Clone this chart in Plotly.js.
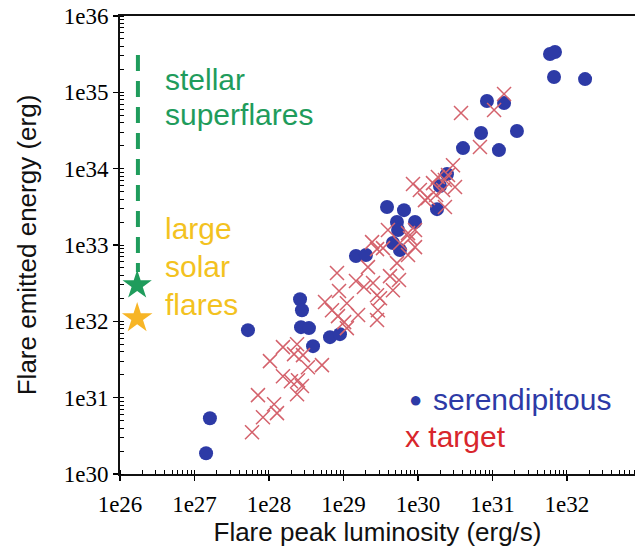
<!DOCTYPE html>
<html>
<head>
<meta charset="utf-8">
<script src="https://cdn.plot.ly/plotly-3.0.1.min.js"></script>
<style>html,body{margin:0;padding:0;background:#fff;}#chart{width:635px;height:554px;}</style>
</head>
<body>
<div id="chart"></div>
<script>
// Serendipitous flares: peak luminosity (erg/s) and emitted energy (erg)
const serendipitousL = [1.43e27, 1.61e27, 5.22e27, 2.61e28, 2.77e28, 2.69e28, 3.44e28, 3.90e28, 6.59e28, 8.97e28,
  1.47e29, 2.00e29, 3.84e29, 6.49e29, 5.22e29, 9.12e29, 5.40e29, 4.61e29, 5.73e29, 1.80e30,
  1.97e30, 2.45e30, 4.02e30, 1.22e31, 7.02e30, 2.13e31, 8.43e30, 1.43e31, 5.92e31, 6.90e31,
  6.70e31, 1.75e32];
const serendipitousE = [1.87e30, 5.38e30, 7.67e31, 1.95e32, 1.40e32, 8.39e31, 8.15e31, 4.73e31, 6.21e31, 6.79e31,
  7.16e32, 7.38e32, 3.14e33, 2.86e33, 2.00e33, 2.00e33, 1.57e33, 1.06e33, 8.57e32, 2.95e33,
  5.92e33, 8.49e33, 1.86e34, 1.75e34, 2.93e34, 3.11e34, 7.69e34, 7.24e34, 3.18e35, 3.37e35,
  1.59e35, 1.49e35];

// Target flares
const targetL = [5.92e27, 8.30e27, 7.11e27, 1.17e28, 1.28e28, 1.03e28, 1.54e28, 1.54e28, 1.97e28, 2.45e28,
  2.38e28, 2.77e28, 2.38e28, 2.17e28, 2.86e28, 3.33e28, 5.14e28, 5.65e28, 8.18e28, 8.71e28,
  7.01e28, 8.43e28, 1.02e29, 1.11e29, 1.47e29, 1.57e29, 1.88e29, 2.13e29, 2.82e29, 2.90e29,
  2.49e29, 2.82e29, 3.09e29, 4.61e29, 4.21e29, 5.56e29, 3.39e29, 2.82e29, 5.73e29, 7.82e29,
  7.35e29, 3.95e29, 5.22e29, 7.35e29, 9.12e29, 2.42e29, 9.12e29, 1.11e29, 8.57e29, 1.06e30,
  1.36e30, 1.59e30, 1.85e30, 2.30e30, 2.17e30, 2.53e30, 2.95e30, 3.14e30, 2.30e30, 1.24e30,
  1.75e30, 6.79e30, 3.78e30, 1.05e31, 1.43e31];
const targetE = [3.53e30, 5.55e30, 1.08e31, 8.22e30, 6.27e30, 3.01e31, 4.59e31, 1.91e31, 1.64e31, 1.69e31,
  1.11e31, 1.42e31, 5.02e31, 3.72e31, 3.61e31, 2.51e31, 2.67e31, 1.79e32, 4.29e32, 2.49e32,
  1.40e32, 1.17e32, 9.77e31, 8.15e31, 3.37e32, 1.21e32, 2.81e32, 5.13e32, 1.04e32, 1.40e32,
  3.17e32, 2.20e32, 2.01e32, 2.56e32, 3.91e32, 3.47e32, 9.10e32, 8.83e32, 1.06e33, 1.23e33,
  1.43e33, 1.57e33, 5.79e32, 7.38e32, 9.38e32, 1.09e33, 1.57e33, 1.73e32, 6.28e33, 5.25e33,
  4.12e33, 6.47e33, 7.76e33, 7.10e33, 5.25e33, 8.24e33, 1.11e34, 5.74e33, 3.14e33, 3.87e33,
  4.51e33, 1.92e34, 5.36e34, 5.86e34, 9.51e34];

// Reference ranges drawn at the left edge
const refL = [1.74e26, 1.74e26];
const superflareE = [3.08e35, 4.42e32];
const starL = [1.70e26];
const stellarStarE = [2.98e32];
const solarStarE = [1.10e32];

// Axis ticks
const xTickVals = [1e26, 1e27, 1e28, 1e29, 1e30, 1e31, 1e32];
const xTickText = ['1e26', '1e27', '1e28', '1e29', '1e30', '1e31', '1e32'];
const yTickVals = [1e30, 1e31, 1e32, 1e33, 1e34, 1e35, 1e36];
const yTickText = ['1e30', '1e31', '1e32', '1e33', '1e34', '1e35', '1e36'];

const green = '#1f9c5c';
const gold = '#f3c21f';
const blue = '#2d3aa6';
const rose = '#d4626c';
const red = '#d8262c';

const traces = [
  {x: refL, y: superflareE, type: 'scatter', mode: 'lines',
   line: {color: green, width: 4, dash: '16px,10px'}, hoverinfo: 'skip'},
  {x: starL, y: stellarStarE, type: 'scatter', mode: 'markers',
   marker: {symbol: 'star', size: 22, color: green, line: {width: 0}}},
  {x: starL, y: solarStarE, type: 'scatter', mode: 'markers',
   marker: {symbol: 'star', size: 23, color: '#f7b526', line: {width: 0}}},
  {x: serendipitousL, y: serendipitousE, type: 'scatter', mode: 'markers', name: 'serendipitous',
   marker: {symbol: 'circle', size: 14, color: blue, line: {width: 0}}},
  {x: targetL, y: targetE, type: 'scatter', mode: 'markers', name: 'target',
   marker: {symbol: 'x-thin-open', size: 14, color: rose, line: {width: 1.5, color: rose}}}
];

const sans = 'Liberation Sans, Arial, sans-serif';
const serif = 'Liberation Serif, Times New Roman, serif';

function ann(text, x, y, color, size, xanchor) {
  return {text: text, x: x, y: y, xref: 'paper', yref: 'paper', xanchor: xanchor || 'left', yanchor: 'middle',
    showarrow: false, font: {family: sans, size: size || 30, color: color}};
}

const layout = {
  width: 635, height: 554,
  margin: {l: 120, r: 0, t: 16, b: 80},
  paper_bgcolor: '#fff', plot_bgcolor: '#fff',
  showlegend: false,
  xaxis: {
    type: 'log', range: [26, 32.913],
    tickvals: xTickVals, ticktext: xTickText,
    ticks: 'outside', ticklen: 5, tickwidth: 1.5, tickcolor: '#000',
    showline: true, linewidth: 2, linecolor: '#111', mirror: true,
    showgrid: false, zeroline: false,
    tickfont: {family: serif, size: 23, color: '#000'},
    ticklabelstandoff: 3,
    minor: {ticks: 'inside', ticklen: 4, tickwidth: 1, tickcolor: '#000', dtick: 'D1', showgrid: false},
    title: {text: 'Flare peak luminosity (erg/s)', font: {family: sans, size: 26, color: '#111'}, standoff: 1}
  },
  yaxis: {
    type: 'log', range: [30, 36],
    tickvals: yTickVals, ticktext: yTickText,
    ticks: 'outside', ticklen: 5, tickwidth: 1.5, tickcolor: '#000',
    showline: true, linewidth: 2, linecolor: '#111', mirror: false,
    showgrid: false, zeroline: false,
    tickfont: {family: serif, size: 23, color: '#000'},
    minor: {ticks: 'inside', ticklen: 4, tickwidth: 1, tickcolor: '#000', dtick: 'D1', showgrid: false},
    title: {text: 'Flare emitted energy (erg)', font: {family: sans, size: 26, color: '#111'}, standoff: 20}
  },
  annotations: [
    ann('stellar', 0.0835, 0.862, green),
    ann('superflares', 0.0835, 0.786, green),
    ann('large', 0.0835, 0.537, gold),
    ann('solar', 0.0835, 0.452, gold),
    ann('flares', 0.0835, 0.369, gold),
    ann('●', 0.573, 0.163, blue, 22, 'center'),
    ann('serendipitous', 0.604, 0.1616, blue),
    ann('x target', 0.55, 0.0808, red)
  ]
};

Plotly.newPlot('chart', traces, layout, {displayModeBar: false, staticPlot: true});
</script>
</body>
</html>
